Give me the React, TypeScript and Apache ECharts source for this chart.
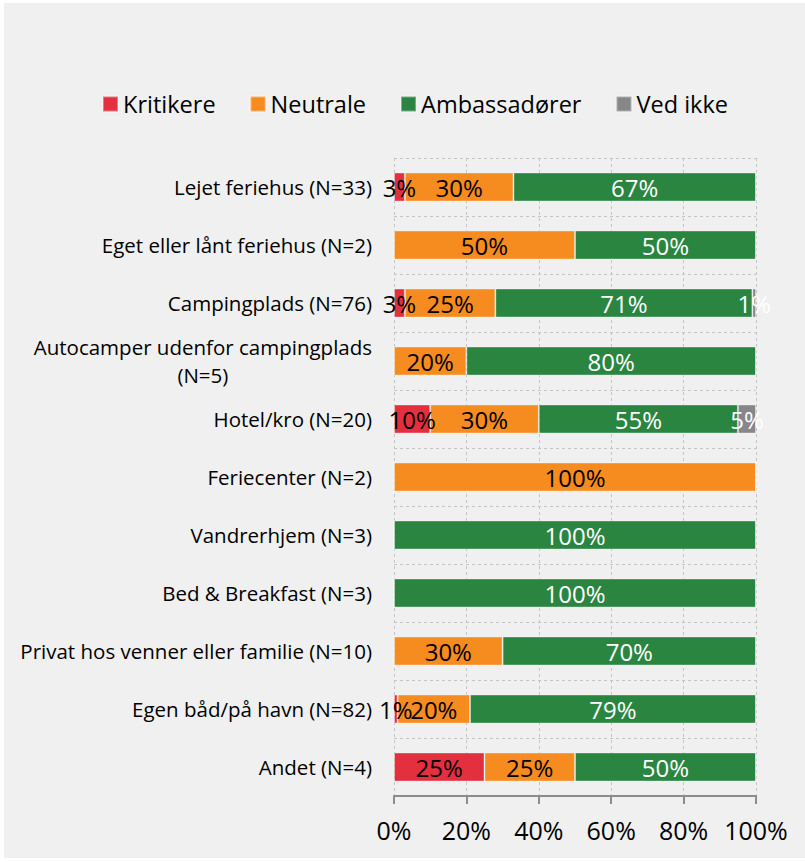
import React, { useEffect, useRef } from "react";
import * as echarts from "echarts";

const categories = [
  "Lejet feriehus (N=33)",
  "Eget eller lånt feriehus (N=2)",
  "Campingplads (N=76)",
  "Autocamper udenfor campingplads\n(N=5)",
  "Hotel/kro (N=20)",
  "Feriecenter (N=2)",
  "Vandrerhjem (N=3)",
  "Bed & Breakfast (N=3)",
  "Privat hos venner eller familie (N=10)",
  "Egen båd/på havn (N=82)",
  "Andet (N=4)",
];

const seriesNames = ["Kritikere", "Neutrale", "Ambassadører", "Ved ikke"];
const kritikere = [3, 0, 3, 0, 10, 0, 0, 0, 0, 1, 25];
const neutrale = [30, 50, 25, 20, 30, 100, 0, 0, 30, 20, 25];
const ambassadoerer = [67, 50, 71, 80, 55, 0, 100, 100, 70, 79, 50];
const vedIkke = [0, 0, 1, 0, 5, 0, 0, 0, 0, 0, 0];

const xTicks = [0, 20, 40, 60, 80, 100];

const colors = ["#e3303f", "#f68b1f", "#2a8540", "#87878a"];
const labelColors = ["#000000", "#000000", "#ffffff", "#ffffff"];

const FONT = "'Open Sans', 'Noto Sans', sans-serif";

export default function App() {
  const ref = useRef<HTMLDivElement>(null);

  useEffect(() => {
    if (!ref.current) return;
    const chart = echarts.init(ref.current, undefined, { renderer: "svg" });
    const values = [kritikere, neutrale, ambassadoerer, vedIkke];

    const option = {
      animation: false,
      backgroundColor: "#f0f0f0",
      textStyle: { fontFamily: FONT },
      legend: {
        data: seriesNames,
        top: 84,
        left: 93,
        itemWidth: 15,
        itemHeight: 15,
        itemGap: 34,
        icon: "rect",
        textStyle: { fontSize: 23.5, color: "#000", fontFamily: FONT },
      },
      grid: { left: 390, right: 49, top: 155, bottom: 62, containLabel: false },
      xAxis: {
        type: "value",
        min: xTicks[0],
        max: xTicks[xTicks.length - 1],
        interval: 20,
        axisLine: { show: true, lineStyle: { color: "#8c8c8c", width: 2 } },
        axisTick: { show: true, length: 8, lineStyle: { color: "#8c8c8c", width: 2 } },
        axisLabel: {
          formatter: "{value}%",
          fontSize: 25,
          color: "#000",
          margin: 21,
          fontFamily: FONT,
        },
        splitLine: { show: true, lineStyle: { color: "#c4c4c4", type: [3, 3], width: 1 } },
      },
      yAxis: {
        type: "category",
        data: categories,
        inverse: true,
        axisLine: { show: false },
        axisTick: { show: false },
        splitLine: { show: true, lineStyle: { color: "#c4c4c4", type: [3, 3], width: 1 } },
        axisLabel: {
          fontSize: 20.5,
          color: "#000",
          margin: 22,
          lineHeight: 28,
          fontFamily: FONT,
          formatter: (v: string) => {
            if (v.indexOf("\n") >= 0) {
              const parts = v.split("\n");
              return "{a|" + parts[0] + "}\n{a|" + parts[1] + "}";
            }
            return v;
          },
          rich: {
            a: { align: "center", fontSize: 20.5, color: "#000", lineHeight: 28, fontFamily: FONT },
          },
        },
      },
      series: seriesNames.map((name, i) => ({
        name,
        type: "bar",
        stack: "total",
        barWidth: "50%",
        data: values[i],
        itemStyle: { color: colors[i], borderColor: "rgba(255,255,255,0.35)", borderWidth: 1 },
        label: {
          show: true,
          position: "inside",
          color: labelColors[i],
          fontSize: 24,
          fontFamily: FONT,
          formatter: (p: any) => (p.value > 0 ? p.value + "%" : ""),
        },
        emphasis: { disabled: true },
      })),
    };
    chart.setOption(option as any);
    return () => chart.dispose();
  }, []);

  return (
    <div
      style={{
        position: "fixed",
        left: 0,
        top: 0,
        width: 805,
        height: 862,
        background: "#ffffff",
      }}
    >
      <div
        ref={ref}
        style={{ position: "absolute", left: 4, top: 3, width: 801, height: 855 }}
      />
    </div>
  );
}
